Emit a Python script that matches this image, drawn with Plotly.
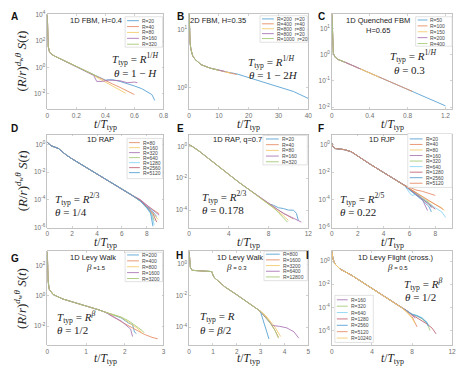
import plotly.graph_objects as go

# ---------------- DATA ----------------
# Panel A : 1D FBM, H=0.4
A_body_t = [0, 0.002, 0.006, 0.015, 0.03, 0.05, 0.1, 0.15, 0.2, 0.25, 0.3]
A_body_S = [1e4, 3.16e2, 3.98e1, 1.58e1, 1.0e1, 7.41, 3.98, 2.14, 1.12, 6.31e-1, 3.55e-1]
A_R20_t = [0.35, 0.4, 0.45, 0.5, 0.55, 0.6, 0.65, 0.7, 0.72, 0.74]
A_R20_S = [2.0e-1, 1.12e-1, 1.2e-1, 8.91e-2, 6.31e-2, 3.98e-2, 2.51e-2, 1.26e-2, 8.91e-3, 3.16e-3]
A_R40_t = [0.35, 0.4, 0.45, 0.5, 0.55, 0.6]
A_R40_S = [1.78e-1, 1.0e-1, 5.62e-2, 3.16e-2, 1.78e-2, 8.91e-3]
A_R80_t = [0.35, 0.4, 0.45, 0.5, 0.54]
A_R80_S = [1.58e-1, 7.94e-2, 3.98e-2, 2.0e-2, 1.12e-2]
A_R160_t = [0.32, 0.34, 0.38, 0.42, 0.46, 0.5, 0.55, 0.6, 0.62]
A_R160_S = [2.51e-1, 8.91e-2, 8.91e-2, 1.12e-1, 1.0e-1, 1.0e-1, 7.08e-2, 7.94e-2, 7.08e-2]
A_R320_t = [0.33, 0.35]
A_R320_S = [2.51e-1, 1.66e-1]
A_labels = ["R=20", "R=40", "R=80", "R=160", "R=320"]

# Panel B : 2D FBM, H=0.35
B_body_t = [0, 0.1, 0.3, 0.6, 1.2, 2, 4, 7, 10]
B_body_S = [2.0e1, 8.91, 6.03, 4.57, 3.55, 3.09, 2.51, 2.19, 2.0]
B_s1_t = [13, 16, 20, 25, 30, 35, 40]
B_s1_S = [1.86, 1.74, 1.51, 1.26, 1.07, 8.71e-1, 6.61e-1]
B_s2_t = [13, 16]
B_s2_S = [1.86, 1.70]
B_s3_t = [12, 14]
B_s3_S = [1.91, 1.78]
B_s4_t = [11, 12]
B_s4_S = [1.95, 1.91]
B_s5_t = []
B_s5_S = []
B_labels = ["R=200  r=20", "R=400  r=40", "R=800  r=80", "R=800  r=20", "R=1000  r=20"]

# Panel C : 1D Quenched FBM, H=0.65
C_body_t = [0, 0.005, 0.015, 0.035, 0.07, 0.14]
C_body_S = [3.55e1, 3.98, 1.12, 7.94e-1, 6.46e-1, 5.13e-1]
C_R50_t = [0.3, 0.5, 0.7, 0.85, 1.0, 1.2]
C_R50_S = [2.88e-1, 1.38e-1, 6.76e-2, 3.98e-2, 2.29e-2, 1.12e-2]
C_R100_t = [0.3, 0.5, 0.7, 0.85]
C_R100_S = [2.88e-1, 1.38e-1, 6.76e-2, 3.98e-2]
C_R150_t = [0.3, 0.5]
C_R150_S = [2.88e-1, 1.38e-1]
C_R200_t = [0.3]
C_R200_S = [2.88e-1]
C_R400_t = []
C_R400_S = []
C_labels = ["R=50", "R=100", "R=150", "R=200", "R=400"]

# Panel D : 1D RAP
D_body_t = [0, 0.3, 0.9, 1.5, 2, 3, 4, 5, 6, 6.8]
D_body_S = [1.41, 7.94e-1, 5.01e-1, 1.78e-1, 8.91e-2, 2.51e-2, 7.94e-3, 2.24e-3, 6.31e-4, 2.24e-4]
D_R40_t = [7.5, 8, 8.4, 8.8]
D_R40_S = [8.91e-5, 3.55e-5, 1.78e-5, 6.31e-6]
D_R80_t = [7.5, 8, 8.5, 9.0]
D_R80_S = [1.0e-4, 3.98e-5, 2.0e-5, 1.0e-5]
D_R160_t = [7.5, 8, 8.5, 8.9]
D_R160_S = [7.94e-5, 3.16e-5, 1.12e-5, 3.98e-6]
D_R320_t = [7.5, 8, 8.6, 9.0]
D_R320_S = [1.0e-4, 4.47e-5, 1.58e-5, 7.94e-6]
D_R640_t = [7.5, 8, 8.4, 8.6]
D_R640_S = [7.94e-5, 2.82e-5, 1.0e-5, 3.16e-6]
D_R1280_t = [7.5, 8, 8.4, 8.6]
D_R1280_S = [7.94e-5, 2.51e-5, 7.94e-6, 1.58e-6]
D_R2560_t = [7.5, 8, 8.5, 8.8]
D_R2560_S = [8.91e-5, 3.16e-5, 1.0e-5, 2.51e-6]
D_R5120_t = [7.5, 8, 8.3, 8.5]
D_R5120_S = [7.94e-5, 2.82e-5, 1.26e-5, 1.26e-6]
D_labels = ["R=40", "R=80", "R=160", "R=320", "R=640", "R=1280", "R=2560", "R=5120"]

# Panel E : 1D RAP, q=0.7
E_body_t = [0, 0.3, 1, 2, 3, 4, 5, 6, 7, 8]
E_body_S = [1.26, 1.0, 5.01e-1, 1.58e-1, 5.01e-2, 1.58e-2, 5.62e-3, 2.0e-3, 7.08e-4, 2.51e-4]
E_R20_t = [8.5, 9, 9.5, 10, 10.5, 10.8, 11]
E_R20_S = [2.0e-4, 1.41e-4, 1.26e-4, 1.0e-4, 1.0e-4, 6.31e-5, 2.24e-5]
E_R40_t = [8.5, 9, 9.5, 10, 10.5]
E_R40_S = [1.58e-4, 1.0e-4, 6.31e-5, 4.47e-5, 2.82e-5]
E_R80_t = [8.5, 9, 9.5, 10]
E_R80_S = [1.41e-4, 7.94e-5, 4.47e-5, 2.24e-5]
E_R160_t = [8.5, 9, 9.5, 10, 10.5, 11, 11.3]
E_R160_S = [1.58e-4, 1.0e-4, 6.31e-5, 4.47e-5, 3.16e-5, 2.24e-5, 1.78e-5]
E_R320_t = [8.5, 9, 9.5, 9.9]
E_R320_S = [1.41e-4, 7.08e-5, 3.55e-5, 1.78e-5]
E_labels = ["R=20", "R=40", "R=80", "R=160", "R=320"]

# Panel F : 1D RJP
F_body_t = [0, 0.05, 0.25, 0.6, 1.0, 1.5, 2, 3, 4, 5, 5.6]
F_body_S = [1.32, 7.59e-1, 5.25e-1, 4.68e-1, 4.27e-1, 3.02e-1, 1.45e-1, 3.55e-2, 9.33e-3, 2.51e-3, 1.12e-3]
F_R20_t = [6, 6.5, 7, 7.5, 7.7]
F_R20_S = [6.31e-4, 2.82e-4, 1.26e-4, 5.01e-5, 2.51e-5]
F_R40_t = [6, 6.5, 7, 7.5, 8]
F_R40_S = [7.94e-4, 5.01e-4, 3.98e-4, 2.82e-4, 2.0e-4]
F_R80_t = [6, 6.5, 7, 7.5, 8, 8.5, 8.7]
F_R80_S = [6.31e-4, 3.16e-4, 1.58e-4, 7.94e-5, 4.47e-5, 2.51e-5, 1.58e-5]
F_R160_t = [6, 6.5, 7, 7.4]
F_R160_S = [5.62e-4, 2.51e-4, 1.0e-4, 1.58e-5]
F_R320_t = [6, 6.5, 7, 7.5, 7.8]
F_R320_S = [6.31e-4, 3.16e-4, 1.26e-4, 6.31e-5, 3.16e-5]
F_R640_t = [6, 6.2, 6.6, 7, 7.5, 8, 8.5, 8.8]
F_R640_S = [3.16e-4, 2.0e-4, 2.51e-4, 1.26e-4, 5.01e-5, 2.51e-5, 1.26e-5, 5.01e-6]
F_R1280_t = [6, 6.5, 7, 7.5, 8]
F_R1280_S = [5.62e-4, 2.51e-4, 1.12e-4, 4.47e-5, 2.0e-5]
F_R2560_t = [6, 6.5, 7, 7.5, 7.7]
F_R2560_S = [5.01e-4, 2.24e-4, 8.91e-5, 3.16e-5, 1.26e-5]
F_R5120_t = [6, 6.5, 7, 7.5, 8, 8.5, 8.6]
F_R5120_S = [6.31e-4, 3.16e-4, 1.78e-4, 8.91e-5, 4.47e-5, 2.24e-5, 1.78e-5]
F_labels = ["R=20", "R=40", "R=80", "R=160", "R=320", "R=640", "R=1280", "R=2560", "R=5120"]

# Panel G : 1D Levy Walk, beta=1.5
G_body_t = [0, 0.005, 0.02, 0.05, 0.15, 0.4, 0.7, 1.0, 1.3, 1.5]
G_body_S = [8.91e2, 6.31e1, 1.0e1, 2.82, 1.26, 6.31e-1, 3.80e-1, 2.24e-1, 1.26e-1, 8.32e-2]
G_R200_t = [1.7, 1.9, 2.1, 2.2, 2.25, 2.3]
G_R200_S = [5.62e-2, 3.55e-2, 1.58e-2, 1.26e-2, 3.98e-3, 3.16e-3]
G_R400_t = [1.7, 1.9, 2.1, 2.3, 2.5, 2.7, 2.85]
G_R400_S = [4.47e-2, 2.0e-2, 1.0e-2, 5.01e-3, 2.82e-3, 1.78e-3, 1.41e-3]
G_R800_t = [1.7, 1.9, 2.1, 2.3, 2.45]
G_R800_S = [5.62e-2, 3.98e-2, 1.78e-2, 7.94e-3, 3.55e-3]
G_R1600_t = [1.7, 1.9, 2.05, 2.15, 2.2]
G_R1600_S = [3.98e-2, 2.24e-2, 1.0e-2, 6.31e-3, 2.0e-3]
G_R3200_t = [1.7, 1.9, 2.1, 2.3, 2.45, 2.5]
G_R3200_S = [5.62e-2, 3.98e-2, 2.24e-2, 1.0e-2, 5.01e-3, 3.55e-3]
G_labels = ["R=200", "R=400", "R=800", "R=1600", "R=3200"]

# Panel H : 1D Levy Walk, beta=0.3
H_body_t = [0, 0.02, 0.05, 0.12, 0.5, 0.95, 1.0, 1.05, 1.2, 1.5, 2.0, 2.5, 2.9]
H_body_S = [6.31, 2.0, 6.31e-1, 3.98e-1, 3.55e-1, 3.31e-1, 2.0e-1, 1.41e-1, 8.91e-2, 3.55e-2, 1.12e-2, 3.55e-3, 1.26e-3]
H_R800_t = [3.0, 3.15, 3.25, 3.35]
H_R800_S = [8.91e-4, 1.58e-4, 6.31e-5, 1.78e-5]
H_R1600_t = [3.0, 3.2, 3.4, 3.6, 3.75]
H_R1600_S = [1.0e-3, 5.01e-4, 2.0e-4, 6.31e-5, 2.24e-5]
H_R3200_t = [3.0, 3.2, 3.4, 3.6, 3.8, 3.85]
H_R3200_S = [1.0e-3, 5.62e-4, 2.51e-4, 1.0e-4, 3.16e-5, 2.51e-5]
H_R6400_t = [3.0, 3.3, 3.5, 3.8, 4.1, 4.4, 4.55, 4.6]
H_R6400_S = [8.91e-4, 2.51e-4, 1.26e-4, 1.12e-4, 8.91e-5, 5.01e-5, 2.51e-5, 2.0e-5]
H_R12800_t = [3.0, 3.2, 3.4, 3.6, 3.75]
H_R12800_S = [8.91e-4, 4.47e-4, 1.78e-4, 6.31e-5, 2.0e-5]
H_labels = ["R=800", "R=1600", "R=3200", "R=6400", "R=12800"]

# Panel I : 1D Levy Flight (cross.), beta=0.5
I_body_t = [0, 0.1, 0.3, 0.8, 2, 3, 4, 5, 6, 7]
I_body_S = [7.08, 1.58, 5.62e-1, 2.09e-1, 5.62e-2, 1.58e-2, 4.17e-3, 1.12e-3, 3.16e-4, 8.91e-5]
I_R160_t = [7.5, 8, 8.3]
I_R160_S = [4.47e-5, 2.24e-5, 1.12e-5]
I_R320_t = [7.5, 8, 8.5, 9, 9.5, 9.8]
I_R320_S = [5.01e-5, 2.51e-5, 1.78e-5, 1.0e-5, 3.98e-6, 1.0e-6]
I_R640_t = [7.5, 8, 8.5, 9, 9.5, 9.7]
I_R640_S = [4.47e-5, 2.51e-5, 2.0e-5, 1.26e-5, 5.01e-6, 2.0e-6]
I_R1280_t = [7.5, 8, 8.5, 9, 9.5, 10, 10.4]
I_R1280_S = [5.01e-5, 2.24e-5, 1.26e-5, 7.08e-6, 3.55e-6, 1.58e-6, 5.01e-7]
I_R2560_t = [7.5, 8, 8.5, 9, 9.5, 9.6]
I_R2560_S = [4.47e-5, 2.51e-5, 1.78e-5, 1.12e-5, 4.47e-6, 2.51e-6]
I_R5120_t = [7.5, 8, 8.5]
I_R5120_S = [3.98e-5, 1.58e-5, 2.0e-6]
I_R10240_t = [7.5, 8, 8.3]
I_R10240_S = [3.55e-5, 1.12e-5, 3.98e-6]
I_labels = ["R=160", "R=320", "R=640", "R=1280", "R=2560", "R=5120", "R=10240"]

# Tick values / labels
A_xticks = [0, 0.2, 0.4, 0.6, 0.8]
A_xlabels = ["0", "0.2", "0.4", "0.6", "0.8"]
A_yticks = [1e4, 1e2, 1, 1e-2]
A_ylabels = ["10<sup>4</sup>", "10<sup>2</sup>", "10<sup>0</sup>", "10<sup>-2</sup>"]
B_xticks = [0, 10, 20, 30, 40]
B_xlabels = ["0", "10", "20", "30", "40"]
B_yticks = [10, 1]
B_ylabels = ["10<sup>1</sup>", "10<sup>0</sup>"]
C_xticks = [0, 0.4, 0.8, 1.2]
C_xlabels = ["0", "0.4", "0.8", "1.2"]
C_yticks = [10, 1, 0.1, 0.01]
C_ylabels = ["10<sup>1</sup>", "10<sup>0</sup>", "10<sup>-1</sup>", "10<sup>-2</sup>"]
D_xticks = [0, 2, 4, 6, 8]
D_xlabels = ["0", "2", "4", "6", "8"]
D_yticks = [1, 1e-2, 1e-4, 1e-6]
D_ylabels = ["10<sup>0</sup>", "10<sup>-2</sup>", "10<sup>-4</sup>", "10<sup>-6</sup>"]
E_xticks = [0, 4, 8, 12]
E_xlabels = ["0", "4", "8", "12"]
E_yticks = [1, 1e-2, 1e-4]
E_ylabels = ["10<sup>0</sup>", "10<sup>-2</sup>", "10<sup>-4</sup>"]
F_xticks = [0, 2, 4, 6, 8]
F_xlabels = ["0", "2", "4", "6", "8"]
F_yticks = [1, 1e-2, 1e-4, 1e-6]
F_ylabels = ["10<sup>0</sup>", "10<sup>-2</sup>", "10<sup>-4</sup>", "10<sup>-6</sup>"]
G_xticks = [0, 1, 2, 3]
G_xlabels = ["0", "1", "2", "3"]
G_yticks = [1e2, 1, 1e-2]
G_ylabels = ["10<sup>2</sup>", "10<sup>0</sup>", "10<sup>-2</sup>"]
H_xticks = [0, 1, 2, 3, 4, 5]
H_xlabels = ["0", "1", "2", "3", "4", "5"]
H_yticks = [1, 1e-2, 1e-4]
H_ylabels = ["10<sup>0</sup>", "10<sup>-2</sup>", "10<sup>-4</sup>"]
I_xticks = [0, 4, 8, 12]
I_xlabels = ["0", "4", "8", "12"]
I_yticks = [1, 1e-2, 1e-4, 1e-6]
I_ylabels = ["10<sup>0</sup>", "10<sup>-2</sup>", "10<sup>-4</sup>", "10<sup>-6</sup>"]

# ---------------- STYLE ----------------
W, H = 463, 370
SANS = "Liberation Sans, Arial, sans-serif"
SERIF = "Liberation Serif, Times New Roman, serif"
AXC = "#b4b4b4"
TICKC = "#707070"
TXT = "#222222"
BLUE = "#59A3D4"
ORANGE = "#E68F69"
YELLOW = "#F3CC6E"
PURPLE = "#AB78B5"
GREEN = "#A6C978"
CYAN = "#8BD5F4"
RED = "#C26678"
TICK_FS = 6.5
LEG_FS = 5


def fx(p):
    return p / W


def fy(p):
    return 1 - p / H


COLX = [(46, 164), (190, 311), (335, 457)]
ROWY = [(10, 107), (133, 228), (252, 348)]

panels = [
    dict(letter="A", r=0, c=0, xr=[0, 0.8], yr=[-3.14, 4.07], bt=A_body_t, bS=A_body_S,
         series=[(A_R20_t, A_R20_S, BLUE), (A_R40_t, A_R40_S, ORANGE), (A_R80_t, A_R80_S, YELLOW),
                 (A_R160_t, A_R160_S, PURPLE), (A_R320_t, A_R320_S, GREEN)],
         labels=A_labels, leg_skip=0, xt=(A_xticks, A_xlabels), yt=(A_yticks, A_ylabels),
         leg=dict(box=(125, 13, 163, 44), lx=(127, 139), tx=141, y0=17, dy=6.0),
         let=(13, 13)),
    dict(letter="B", r=0, c=1, xr=[0, 40], yr=[-0.36, 1.27], bt=B_body_t, bS=B_body_S,
         series=[(B_s1_t, B_s1_S, BLUE), (B_s2_t, B_s2_S, ORANGE), (B_s3_t, B_s3_S, YELLOW),
                 (B_s4_t, B_s4_S, PURPLE), (B_s5_t, B_s5_S, GREEN)],
         labels=B_labels, leg_skip=0, xt=(B_xticks, B_xlabels), yt=(B_yticks, B_ylabels),
         leg=dict(box=(262, 12, 310, 39), lx=(264, 276), tx=278, y0=15.2, dy=5.0),
         let=(181, 13)),
    dict(letter="C", r=0, c=2, xr=[0, 1.27], yr=[-2.07, 1.56], bt=C_body_t, bS=C_body_S,
         series=[(C_R50_t, C_R50_S, BLUE), (C_R100_t, C_R100_S, ORANGE), (C_R150_t, C_R150_S, YELLOW),
                 (C_R200_t, C_R200_S, PURPLE), (C_R400_t, C_R400_S, GREEN)],
         labels=C_labels, leg_skip=0, xt=(C_xticks, C_xlabels), yt=(C_yticks, C_ylabels),
         leg=dict(box=(420, 13, 457, 43), lx=(422, 432), tx=434, y0=16.3, dy=6.0),
         let=(324, 13)),
    dict(letter="D", r=1, c=0, xr=[0, 9.35], yr=[-6.0, 0.71], bt=D_body_t, bS=D_body_S,
         series=[(D_R40_t, D_R40_S, BLUE), (D_R80_t, D_R80_S, ORANGE), (D_R160_t, D_R160_S, YELLOW),
                 (D_R320_t, D_R320_S, PURPLE), (D_R640_t, D_R640_S, GREEN), (D_R1280_t, D_R1280_S, CYAN),
                 (D_R2560_t, D_R2560_S, RED), (D_R5120_t, D_R5120_S, BLUE)],
         labels=D_labels, leg_skip=1, xt=(D_xticks, D_xlabels), yt=(D_yticks, D_ylabels),
         leg=dict(box=(127, 137, 163, 178), lx=(129, 140), tx=142, y0=141.3, dy=5.1),
         let=(13, 127)),
    dict(letter="E", r=1, c=1, xr=[0, 12], yr=[-5.1, 0.74], bt=E_body_t, bS=E_body_S,
         series=[(E_R20_t, E_R20_S, BLUE), (E_R40_t, E_R40_S, ORANGE), (E_R80_t, E_R80_S, YELLOW),
                 (E_R160_t, E_R160_S, PURPLE), (E_R320_t, E_R320_S, GREEN)],
         labels=E_labels, leg_skip=0, xt=(E_xticks, E_xlabels), yt=(E_yticks, E_ylabels),
         leg=dict(box=(265, 134, 310, 164), lx=(268, 281), tx=283, y0=137.6, dy=5.8),
         let=(181, 127)),
    dict(letter="F", r=1, c=2, xr=[0, 9.3], yr=[-6.05, 0.74], bt=F_body_t, bS=F_body_S,
         series=[(F_R20_t, F_R20_S, BLUE), (F_R40_t, F_R40_S, ORANGE), (F_R80_t, F_R80_S, YELLOW),
                 (F_R160_t, F_R160_S, PURPLE), (F_R320_t, F_R320_S, GREEN), (F_R640_t, F_R640_S, CYAN),
                 (F_R1280_t, F_R1280_S, RED), (F_R2560_t, F_R2560_S, BLUE), (F_R5120_t, F_R5120_S, ORANGE)],
         labels=F_labels, leg_skip=0, xt=(F_xticks, F_xlabels), yt=(F_yticks, F_ylabels),
         leg=dict(box=(412, 132, 457, 187), lx=(414, 427), tx=429, y0=137.5, dy=5.65),
         let=(324, 127)),
    dict(letter="G", r=2, c=0, xr=[0, 3], yr=[-3.29, 2.98], bt=G_body_t, bS=G_body_S,
         series=[(G_R200_t, G_R200_S, BLUE), (G_R400_t, G_R400_S, ORANGE), (G_R800_t, G_R800_S, YELLOW),
                 (G_R1600_t, G_R1600_S, PURPLE), (G_R3200_t, G_R3200_S, GREEN)],
         labels=G_labels, leg_skip=0, xt=(G_xticks, G_xlabels), yt=(G_yticks, G_ylabels),
         leg=dict(box=(125, 253, 163, 283), lx=(127, 139), tx=141, y0=255.8, dy=6.0),
         let=(13, 259)),
    dict(letter="H", r=2, c=1, xr=[0, 5], yr=[-5.16, 0.81], bt=H_body_t, bS=H_body_S,
         series=[(H_R800_t, H_R800_S, BLUE), (H_R1600_t, H_R1600_S, ORANGE), (H_R3200_t, H_R3200_S, YELLOW),
                 (H_R6400_t, H_R6400_S, PURPLE), (H_R12800_t, H_R12800_S, GREEN)],
         labels=H_labels, leg_skip=0, xt=(H_xticks, H_xlabels), yt=(H_yticks, H_ylabels),
         leg=dict(box=(266, 252, 310, 282), lx=(268, 282), tx=284, y0=255, dy=5.8),
         let=(180, 256)),
    dict(letter="I", r=2, c=2, xr=[0, 12], yr=[-7.3, 0.85], bt=I_body_t, bS=I_body_S,
         series=[(I_R160_t, I_R160_S, PURPLE), (I_R320_t, I_R320_S, GREEN), (I_R640_t, I_R640_S, CYAN),
                 (I_R1280_t, I_R1280_S, RED), (I_R2560_t, I_R2560_S, BLUE), (I_R5120_t, I_R5120_S, ORANGE),
                 (I_R10240_t, I_R10240_S, YELLOW)],
         labels=I_labels, leg_skip=0, xt=(I_xticks, I_xlabels), yt=(I_yticks, I_ylabels),
         leg=dict(box=(338, 297, 377, 345), lx=(340, 351), tx=353, y0=301.5, dy=6.5),
         let=(310, 256)),
]

fig = go.Figure()
layout = dict(width=W, height=H, autosize=False, margin=dict(l=0, r=0, t=0, b=0),
              paper_bgcolor="white", plot_bgcolor="white", showlegend=False)
shapes = []
annotations = []


def ann(x, y, text, size, family=SANS, xanchor="center", color=TXT, angle=0):
    annotations.append(dict(x=fx(x), y=fy(y), xref="paper", yref="paper", text=text,
                            showarrow=False, xanchor=xanchor, yanchor="middle", textangle=angle,
                            borderpad=0, font=dict(family=family, size=size, color=color)))


for i, p in enumerate(panels):
    n = i + 1
    xa = "x" if n == 1 else f"x{n}"
    ya = "y" if n == 1 else f"y{n}"
    for t, S, col in p["series"]:
        fig.add_trace(go.Scatter(x=p["bt"] + t, y=p["bS"] + S, mode="lines",
                                 line=dict(color=col, width=0.9), xaxis=xa, yaxis=ya,
                                 hoverinfo="skip"))
    cx0, cx1 = COLX[p["c"]]
    ry0, ry1 = ROWY[p["r"]]
    common = dict(showline=True, linecolor=AXC, linewidth=0.8, mirror="ticks", ticks="inside",
                  ticklen=2, tickwidth=0.6, tickcolor=AXC, showgrid=False, zeroline=False,
                  tickfont=dict(family=SANS, size=TICK_FS, color=TICKC), tickmode="array",
                  fixedrange=True)
    layout["xaxis" if n == 1 else f"xaxis{n}"] = dict(
        common, domain=[fx(cx0), fx(cx1)], range=p["xr"], anchor=ya,
        tickvals=p["xt"][0], ticktext=p["xt"][1])
    layout["yaxis" if n == 1 else f"yaxis{n}"] = dict(
        common, domain=[fy(ry1), fy(ry0)], range=p["yr"], type="log", anchor=xa,
        tickvals=p["yt"][0], ticktext=p["yt"][1])

    # legend drawn manually (compact MATLAB style)
    lg = p["leg"]
    bx0, by0, bx1, by1 = lg["box"]
    shapes.append(dict(type="rect", xref="paper", yref="paper", x0=fx(bx0), x1=fx(bx1),
                       y0=fy(by1), y1=fy(by0), line=dict(color="#cfcfcf", width=0.6),
                       fillcolor="white", layer="above"))
    entries = list(zip(p["labels"], [s[2] for s in p["series"]]))[p["leg_skip"]:]
    for k, (lab, col) in enumerate(entries):
        yy = lg["y0"] + k * lg["dy"]
        shapes.append(dict(type="line", xref="paper", yref="paper", x0=fx(lg["lx"][0]), x1=fx(lg["lx"][1]),
                           y0=fy(yy), y1=fy(yy), line=dict(color=col, width=0.9), layer="above"))
        ann(lg["tx"], yy, lab, LEG_FS, xanchor="left", color="#444444")

    # panel letter
    ann(p["let"][0], p["let"][1], f"<b>{p['letter']}</b>", 10, xanchor="center", color="#111111")
    # x-axis label
    ann((cx0 + cx1) / 2, [123, 244, 362][p["r"]], "<i>t</i>/<i>T</i><sub>typ</sub>", 11.5, family=SERIF)

# y-axis labels (first column)
YLAB = "(<i>R</i>/<i>r</i>)<sup><i>d</i><sub>w</sub><i>θ</i></sup> <i>S</i>(<i>t</i>)"
for yc in [58, 180, 300]:
    ann(19, yc, YLAB, 13, family=SERIF, angle=-90)

# titles
ann(95, 17, "1D FBM, H=0.4", 7.5)
ann(219, 17, "2D FBM, H=0.35", 7.5)
ann(382, 17, "1D Quenched FBM", 7.5)
ann(382, 27, "H=0.65", 7.5)
ann(100, 138, "1D RAP", 7.5)
ann(239, 138, "1D RAP, q=0.7", 7.5)
ann(386, 138, "1D RJP", 7.5)
ann(92, 258, "1D Levy Walk", 7.5)
ann(242, 258, "1D Levy Walk", 7.5)
ann(400, 258, "1D Levy Flight (cross.)", 7.5)
BETA = '<span style="font-family:Liberation Serif;font-size:9px"><i>β</i></span>'
ann(95, 268, BETA + " =1.5", 6)
ann(238, 268, BETA + " = 0.3", 6)
ann(402, 268, BETA + " = 0.5", 6)

# formulas
TT = "<i>T</i><sub>typ</sub> = "
FS = 11
ann(111, 56, TT + "<i>R</i><sup>1/<i>H</i></sup>", FS, family=SERIF, xanchor="left")
ann(113, 70, "<i>θ</i> = 1 − <i>H</i>", FS, family=SERIF, xanchor="left")
ann(249, 59, TT + "<i>R</i><sup>1/<i>H</i></sup>", FS, family=SERIF, xanchor="left")
ann(250, 72, "<i>θ</i> = 1 − 2<i>H</i>", FS, family=SERIF, xanchor="left")
ann(393, 52.5, TT + "<i>R</i><sup>1/<i>H</i></sup>", FS, family=SERIF, xanchor="left")
ann(397, 67, "<i>θ</i> = 0.3", FS, family=SERIF, xanchor="left")
ann(53, 199, TT + "<i>R</i><sup>2/3</sup>", FS, family=SERIF, xanchor="left")
ann(53, 212, "<i>θ</i> = 1/4", FS, family=SERIF, xanchor="left")
ann(202, 197, TT + "<i>R</i><sup>2/3</sup>", FS, family=SERIF, xanchor="left")
ann(202, 210, "<i>θ</i> = 0.178", FS, family=SERIF, xanchor="left")
ann(342, 199, TT + "<i>R</i><sup>2/5</sup>", FS, family=SERIF, xanchor="left")
ann(342, 212, "<i>θ</i> = 0.22", FS, family=SERIF, xanchor="left")
ann(55, 319, TT + "<i>R</i><sup><i>β</i></sup>", FS, family=SERIF, xanchor="left")
ann(55, 332, "<i>θ</i> = 1/2", FS, family=SERIF, xanchor="left")
ann(200, 319, TT + "<i>R</i>", FS, family=SERIF, xanchor="left")
ann(200, 332, "<i>θ</i> = <i>β</i>/2", FS, family=SERIF, xanchor="left")
ann(407, 285, TT + "<i>R</i><sup><i>β</i></sup>", FS, family=SERIF, xanchor="left")
ann(408, 299, "<i>θ</i> = 1/2", FS, family=SERIF, xanchor="left")

layout["shapes"] = shapes
layout["annotations"] = annotations
fig.update_layout(**layout)
fig.write_html("out.html", include_plotlyjs=True, full_html=True,
               config={"displayModeBar": False, "staticPlot": True},
               post_script="document.body.style.margin='0px';document.body.style.overflow='hidden';")
